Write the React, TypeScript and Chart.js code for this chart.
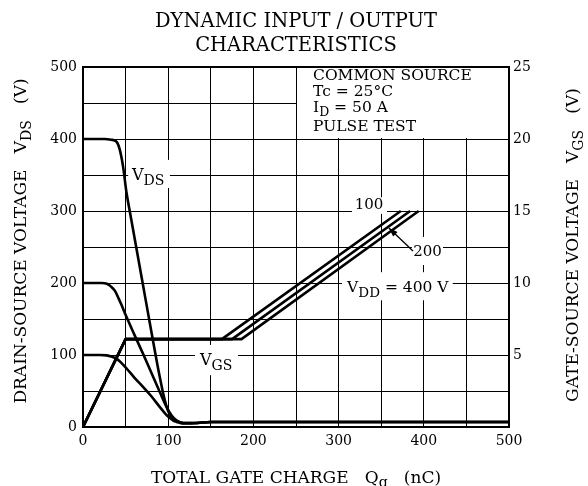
import React, { useEffect, useRef } from "react";
import { Chart, registerables } from "chart.js";

Chart.register(...registerables);

const FONT = '"DejaVu Serif", "Liberation Serif", serif';

// Title / axis texts
const titleLines = ["DYNAMIC INPUT / OUTPUT", "CHARACTERISTICS"];
const legendLines = ["COMMON SOURCE", "Tc = 25°C", "I|D| = 50 A", "PULSE TEST"];

// Axis ranges and ticks
const qMax = 500;
const vdsMax = 500;
const vgsMax = 25;
const qLabelStep = 100;
const vdsLabelStep = 100;
const vgsLabelStep = 5;

// V_DS curves (left axis), gate charge in nC
const q400 = [0, 25, 33, 39.5, 43, 47, 51, 55, 60, 70, 80, 90, 95, 100, 105, 110, 118, 130, 150, 500];
const vds400 = [400, 400, 399, 396, 386, 362, 326, 299, 266, 200, 134, 70, 42, 22, 12.5, 8.5, 5.5, 5.5, 7, 7];

const q200 = [0, 22, 28, 33, 37.5, 42, 45, 51, 60, 70, 80, 90, 98, 104, 110, 118, 130, 150, 500];
const vds200 = [200, 200, 199, 195, 189, 178, 170, 153, 129, 103, 76, 49, 28, 16, 9, 5.5, 5.5, 7, 7];

const q100 = [0, 20, 28, 34, 39.5, 45, 51, 60, 71, 80, 90, 97, 102, 106, 110, 116, 125, 150, 500];
const vds100 = [100, 100, 99.5, 97.5, 95, 89, 81.5, 69, 55, 43, 28, 18, 12.5, 9, 7, 5, 5, 7, 7];

// V_GS curves (right axis)
const qGs100 = [0, 50, 163, 373];
const qGs200 = [0, 50, 175, 384];
const qGs400 = [0, 50, 186, 394];
const vgsCurve = [0, 6.1, 6.1, 15];

const pts = (xs: number[], ys: number[]) => xs.map((x, i) => ({ x, y: ys[i] }));

const LINE_W = 2.6;

function drawSub(
  ctx: CanvasRenderingContext2D,
  x: number,
  y: number,
  main: string,
  sub: string,
  mainSize: number,
  subSize: number,
  subDrop: number
) {
  ctx.font = `${mainSize}px ${FONT}`;
  ctx.fillText(main, x, y);
  const w = ctx.measureText(main).width;
  ctx.font = `${subSize}px ${FONT}`;
  ctx.fillText(sub, x + w, y + subDrop);
  return w + ctx.measureText(sub).width;
}

function drawPieces(
  ctx: CanvasRenderingContext2D,
  pieces: [string, number, number][],
  x: number,
  y: number
) {
  let cx = x;
  for (const [t, s, d] of pieces) {
    ctx.font = `${s}px ${FONT}`;
    ctx.fillText(t, cx, y + d);
    cx += ctx.measureText(t).width;
  }
  return cx - x;
}
function measurePieces(ctx: CanvasRenderingContext2D, pieces: [string, number, number][]) {
  let w = 0;
  for (const [t, s] of pieces) {
    ctx.font = `${s}px ${FONT}`;
    w += ctx.measureText(t).width;
  }
  return w;
}

const overlayPlugin = {
  id: "overlay",
  beforeDatasetsDraw(chart: any) {
    const { ctx, chartArea, scales } = chart;
    const X = (v: number) => scales.x.getPixelForValue(v);
    const Y = (v: number) => scales.y.getPixelForValue(v);
    ctx.save();
    ctx.fillStyle = "#fff";
    const bx = X(250) + 1;
    ctx.fillRect(bx, chartArea.top, chartArea.right - bx, Y(400) - 1 - chartArea.top);
    const rects: number[][] = [
      [53, 102, 332, 371],
      [131.5, 182, 72, 114],
      [315.7, 356.8, 296, 319],
      [386, 422.5, 225, 264],
      [304, 434, 176, 215],
    ];
    for (const [q1, q2, v1, v2] of rects) {
      ctx.fillRect(X(q1), Y(v2), X(q2) - X(q1), Y(v1) - Y(v2));
    }
    ctx.restore();
  },
  afterDatasetsDraw(chart: any) {
    const { ctx, chartArea, scales } = chart;
    const X = (v: number) => scales.x.getPixelForValue(v);
    const Y = (v: number) => scales.y.getPixelForValue(v);
    ctx.save();
    ctx.fillStyle = "#000";
    ctx.strokeStyle = "#000";
    ctx.textBaseline = "alphabetic";
    ctx.textAlign = "left";

    const lx = X(270);
    const lBase = [482, 459.5, 438, 411.5];
    legendLines.forEach((line, i) => {
      const parts = line.split("|");
      if (parts.length === 3) {
        drawPieces(ctx, [[parts[0], 15.5, 0], [parts[1], 12.5, 4], [parts[2], 15.5, 0]], lx, Y(lBase[i]));
      } else {
        ctx.font = `15.5px ${FONT}`;
        ctx.fillText(line, lx, Y(lBase[i]));
      }
    });

    drawSub(ctx, X(57.5), Y(343), "V", "DS", 16, 14, 5);
    drawSub(ctx, X(137.3), Y(86), "V", "GS", 16, 14, 5);
    drawPieces(ctx, [["V", 15.5, 0], ["DD", 13.5, 5], [" = 400 V", 15.5, 0]], X(310), Y(187.5));

    ctx.textAlign = "center";
    ctx.textBaseline = "middle";
    ctx.font = `15px ${FONT}`;
    ctx.fillText("100", X(335.7), Y(308));
    ctx.fillText("200", X(404.3), Y(243));

    const sx = X(387.3), sy = Y(244.4), tx = X(359), ty = Y(276.4);
    ctx.lineWidth = 1.3;
    ctx.beginPath();
    ctx.moveTo(sx, sy);
    ctx.lineTo(tx, ty);
    ctx.stroke();
    const ang = Math.atan2(ty - sy, tx - sx);
    const ah = 9, aw = 3.2;
    ctx.beginPath();
    ctx.moveTo(tx, ty);
    ctx.lineTo(tx - ah * Math.cos(ang) + aw * Math.sin(ang), ty - ah * Math.sin(ang) - aw * Math.cos(ang));
    ctx.lineTo(tx - ah * Math.cos(ang) - aw * Math.sin(ang), ty - ah * Math.sin(ang) + aw * Math.cos(ang));
    ctx.closePath();
    ctx.fill();

    ctx.lineWidth = 2;
    ctx.strokeRect(chartArea.left, chartArea.top, chartArea.right - chartArea.left, chartArea.bottom - chartArea.top);
    ctx.restore();
  },
  afterDraw(chart: any) {
    const { ctx, chartArea } = chart;
    ctx.save();
    ctx.fillStyle = "#000";
    ctx.textBaseline = "alphabetic";
    const cx = (chartArea.left + chartArea.right) / 2;

    ctx.textAlign = "center";
    ctx.font = `19.5px ${FONT}`;
    ctx.fillText(titleLines[0], cx, 27);
    ctx.fillText(titleLines[1], cx, 51);

    ctx.textAlign = "left";
    const xp: [string, number, number][] = [
      ["TOTAL GATE CHARGE   ", 17, 0],
      ["Q", 17, 0],
      ["g", 14, 4],
      ["   (nC)", 17, 0],
    ];
    const xw = measurePieces(ctx, xp);
    drawPieces(ctx, xp, cx - xw / 2, 483);

    const lp: [string, number, number][] = [
      ["DRAIN-SOURCE VOLTAGE   ", 17, 0],
      ["V", 17, 0],
      ["DS", 14, 5],
      ["   (V)", 17, 0],
    ];
    const lw = measurePieces(ctx, lp);
    ctx.save();
    ctx.translate(26, 241);
    ctx.rotate(-Math.PI / 2);
    drawPieces(ctx, lp, -lw / 2, 0);
    ctx.restore();

    const rp: [string, number, number][] = [
      ["GATE-SOURCE VOLTAGE   ", 17, 0],
      ["V", 17, 0],
      ["GS", 14, 5],
      ["   (V)", 17, 0],
    ];
    const rw = measurePieces(ctx, rp);
    ctx.save();
    ctx.translate(578, 245);
    ctx.rotate(-Math.PI / 2);
    drawPieces(ctx, rp, -rw / 2, 0);
    ctx.restore();

    ctx.restore();
  },
};

export default function App() {
  const ref = useRef<HTMLCanvasElement | null>(null);

  useEffect(() => {
    if (!ref.current) return;
    const line = (data: { x: number; y: number }[], axis: string, smooth: boolean) => ({
      data,
      yAxisID: axis,
      borderColor: "#000",
      borderWidth: LINE_W,
      pointRadius: 0,
      fill: false,
      tension: 0,
      cubicInterpolationMode: smooth ? ("monotone" as const) : ("default" as const),
      borderJoinStyle: "round" as const,
    });
    const chart = new Chart(ref.current, {
      type: "line",
      data: {
        datasets: [
          line(pts(q400, vds400), "y", true),
          line(pts(q200, vds200), "y", true),
          line(pts(q100, vds100), "y", true),
          line(pts(qGs100, vgsCurve), "y2", false),
          line(pts(qGs200, vgsCurve), "y2", false),
          line(pts(qGs400, vgsCurve), "y2", false),
        ],
      },
      options: {
        responsive: false,
        animation: false,
        devicePixelRatio: 1,
        layout: { padding: { top: 67, left: 0, right: 0, bottom: 0 } },
        plugins: { legend: { display: false }, tooltip: { enabled: false }, title: { display: false } },
        scales: {
          x: {
            type: "linear",
            min: 0,
            max: qMax,
            afterFit: (s: any) => {
              s.height = 59;
            },
            ticks: {
              stepSize: 50,
              autoSkip: false,
              maxRotation: 0,
              padding: 6,
              color: "#000",
              font: { family: FONT, size: 14 },
              callback: (v: any) => (Number(v) % qLabelStep === 0 ? String(v) : ""),
            },
            grid: { color: "#000", lineWidth: 1, drawTicks: false },
            border: { display: false },
          },
          y: {
            type: "linear",
            position: "left",
            min: 0,
            max: vdsMax,
            afterFit: (s: any) => {
              s.width = 83;
            },
            ticks: {
              stepSize: 50,
              autoSkip: false,
              padding: 6,
              color: "#000",
              font: { family: FONT, size: 14 },
              callback: (v: any) => (Number(v) % vdsLabelStep === 0 ? String(v) : ""),
            },
            grid: { color: "#000", lineWidth: 1, drawTicks: false },
            border: { display: false },
          },
          y2: {
            type: "linear",
            position: "right",
            min: 0,
            max: vgsMax,
            afterFit: (s: any) => {
              s.width = 79;
            },
            ticks: {
              stepSize: 2.5,
              autoSkip: false,
              padding: 4,
              color: "#000",
              font: { family: FONT, size: 14 },
              callback: (v: any) => (Number(v) > 0 && Number(v) % vgsLabelStep === 0 ? String(v) : ""),
            },
            grid: { display: false, drawTicks: false },
            border: { display: false },
          },
        },
      },
      plugins: [overlayPlugin],
    });
    return () => chart.destroy();
  }, []);

  return (
    <div style={{ position: "absolute", left: 0, top: 0, width: 588, height: 486, background: "#fff" }}>
      <canvas ref={ref} width={588} height={486} style={{ display: "block" }} />
    </div>
  );
}
